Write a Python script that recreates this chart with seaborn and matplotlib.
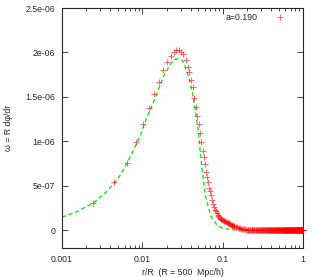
import numpy as np
import pandas as pd
import matplotlib
matplotlib.use('Agg')
import matplotlib.pyplot as plt
import seaborn as sns

# measured profile (red crosses), omega in units of 1e-6
r_pts = [0.00244, 0.00447, 0.0065, 0.0084, 0.0102, 0.0122, 0.0141, 0.0163,
         0.0183, 0.0205, 0.0225, 0.0245, 0.0265, 0.0285, 0.0305, 0.0325,
         0.0345, 0.0365, 0.0385, 0.0405, 0.0425, 0.0445, 0.0465, 0.0485,
         0.0505, 0.0525, 0.0545, 0.0565, 0.0585, 0.0605, 0.0625, 0.0645,
         0.0665, 0.0685, 0.0705, 0.0725, 0.0745, 0.0765, 0.0785, 0.0805,
         0.0825, 0.0845, 0.0865, 0.0885, 0.0905, 0.0925, 0.0945, 0.0965,
         0.0985, 0.1005, 0.1025, 0.105, 0.1075, 0.11, 0.1125, 0.115, 0.1175,
         0.12, 0.1225, 0.125, 0.1275, 0.13, 0.1325, 0.135, 0.1375, 0.14,
         0.145, 0.15, 0.155, 0.16, 0.165, 0.17, 0.175, 0.18, 0.185, 0.19,
         0.195, 0.20]
w_pts = [0.30, 0.54, 0.76, 0.99, 1.19, 1.37, 1.53, 1.67,
         1.80, 1.89, 1.96, 2.01, 2.03, 2.03, 2.01, 1.98,
         1.92, 1.84, 1.78, 1.69, 1.61, 1.49, 1.39, 1.29,
         1.19, 1.09, 0.99, 0.89, 0.82, 0.74, 0.65, 0.60,
         0.54, 0.48, 0.44, 0.39, 0.34, 0.29, 0.26, 0.23,
         0.21, 0.19, 0.17, 0.155, 0.145, 0.135, 0.125, 0.12,
         0.115, 0.11, 0.108, 0.105, 0.10, 0.095, 0.09, 0.085, 0.08,
         0.075, 0.07, 0.065, 0.06, 0.056, 0.052, 0.048, 0.045, 0.042,
         0.036, 0.031, 0.027, 0.024, 0.021, 0.018, 0.015, 0.013, 0.011, 0.009,
         0.007, 0.006]
# flat tail out to r/R = 1 sits at zero
tail_r = np.round(np.arange(0.205, 1.001, 0.004), 3)
tail_w = np.zeros(len(tail_r))

# model curve (green dashed), units of 1e-6
r_fit = [0.001, 0.00154, 0.0025, 0.00365, 0.005, 0.0065, 0.0094, 0.0115,
         0.0126, 0.0154, 0.0183, 0.0224, 0.0255, 0.0282, 0.0305, 0.0325,
         0.0376, 0.042, 0.046, 0.05, 0.0531, 0.057, 0.0612, 0.0708,
         0.0866, 0.102, 0.13, 0.2, 1.0]
w_fit = [0.146, 0.21, 0.31, 0.44, 0.58, 0.76, 1.06, 1.28,
         1.36, 1.55, 1.73, 1.87, 1.92, 1.93, 1.92, 1.89,
         1.73, 1.55, 1.33, 1.10, 0.83, 0.60, 0.38, 0.16,
         0.05, 0.02, 0.005, 0.0, 0.0]

pts = pd.DataFrame({'r': list(r_pts) + list(tail_r),
                    'w': np.concatenate([w_pts, tail_w]) * 1e-6})
fit = pd.DataFrame({'r': r_fit, 'w': np.array(w_fit) * 1e-6})

sns.set_style('ticks')
plt.rcParams['font.family'] = ['Liberation Sans', 'DejaVu Sans']
fs = 6.3
plt.rcParams['font.size'] = fs

fig = plt.figure(figsize=(3.12, 2.77), dpi=100)
ax = fig.add_axes([0.199, 0.105, 0.772, 0.866])

sns.lineplot(data=fit, x='r', y='w', ax=ax, color='#22dd22', lw=1.0,
             linestyle=(0, (3, 2)), zorder=2)
sns.scatterplot(data=pts, x='r', y='w', ax=ax, marker='+', color='red',
                s=22, linewidth=0.7, alpha=0.6, label='a=0.190', zorder=3,
                clip_on=False)

ax.set_xscale('log')
ax.set_xlim(0.001, 1)
ax.set_ylim(-2e-7, 2.5e-6)
ax.set_yticks(np.arange(0, 2.6e-6, 0.5e-6))
ax.set_yticklabels(['0', '5e-07', '1e-06', '1.5e-06', '2e-06', '2.5e-06'])
ax.set_xticks([0.001, 0.01, 0.1, 1])
ax.set_xticklabels(['0.001', '0.01', '0.1', '1'])
ax.tick_params(which='both', direction='in', top=True, right=True,
               labelsize=fs, width=0.6, pad=5)
ax.tick_params(which='major', length=4)
ax.tick_params(which='minor', length=2)
for s in ax.spines.values():
    s.set_linewidth(0.8)

ax.set_xlabel('r/R  (R = 500  Mpc/h)', fontsize=fs, labelpad=3)
ax.set_ylabel('ω = R dφ/dr', fontsize=fs, labelpad=9)

ax.legend(loc='upper right', bbox_to_anchor=(0.975, 1.013), frameon=False,
          markerfirst=False, handletextpad=1.6, borderaxespad=0.5,
          fontsize=fs)

fig.savefig('out.png', dpi=100)
